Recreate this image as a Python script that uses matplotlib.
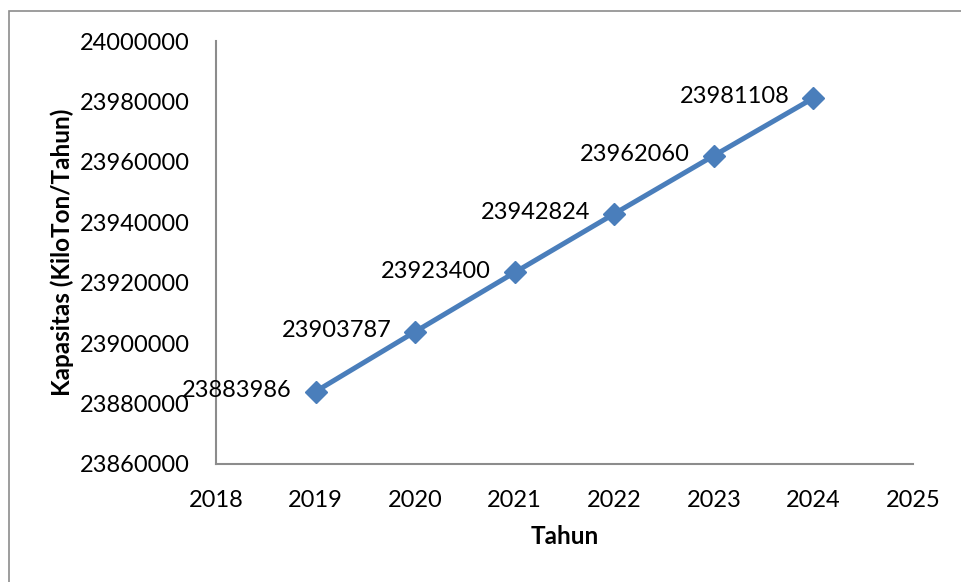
import matplotlib
matplotlib.use("Agg")
import matplotlib.pyplot as plt
from matplotlib.patches import Rectangle

years = [2019, 2020, 2021, 2022, 2023, 2024]
kapasitas = [23883986, 23903787, 23923400, 23942824, 23962060, 23981108]
x_ticks = list(range(2018, 2026))
y_ticks = list(range(23860000, 24000001, 20000))

plt.rcParams["font.family"] = ["Lato", "DejaVu Sans"]

W, H = 961, 582
fig = plt.figure(figsize=(W / 100, H / 100), dpi=100)
ax = fig.add_axes([216 / W, 1 - 464 / H, (913 - 216) / W, (464 - 41) / H])

# outer chart border (runs off the right/bottom edge like the source)
fig.patches.append(Rectangle((9 / W, -0.1), 1.2, 1 - 11 / H + 0.1,
                             transform=fig.transFigure, fill=False,
                             edgecolor="#8c8c8c", linewidth=1.2))

ax.plot(years, kapasitas, color="#4a7ebb", linewidth=3.6, marker="D",
        markersize=11, markerfacecolor="#4a7ebb", markeredgecolor="#4a7ebb",
        solid_capstyle="butt")

for x, y in zip(years, kapasitas):
    ax.annotate(str(y), (x, y), xytext=(-17, 1), textcoords="offset points",
                ha="right", va="center", fontsize=17, color="black")

ax.set_xlim(2018, 2025)
ax.set_ylim(23860000, 24000000)
ax.set_xticks(x_ticks)
ax.set_yticks(y_ticks)
ax.set_xticklabels([str(t) for t in x_ticks])
ax.set_yticklabels([str(t) for t in y_ticks])
ax.tick_params(length=0, labelsize=17, colors="black")
ax.tick_params(axis="y", pad=19)
ax.tick_params(axis="x", pad=19)

for s in ["top", "right"]:
    ax.spines[s].set_visible(False)
for s in ["left", "bottom"]:
    ax.spines[s].set_color("#8c8c8c")
    ax.spines[s].set_linewidth(1.5)

ax.set_xlabel("Tahun", fontsize=17.5, fontweight="bold", labelpad=10)
ax.set_ylabel("Kapasitas (KiloTon/Tahun)", fontsize=17.5, fontweight="bold",
              labelpad=4)

fig.savefig("out.png", dpi=100)
